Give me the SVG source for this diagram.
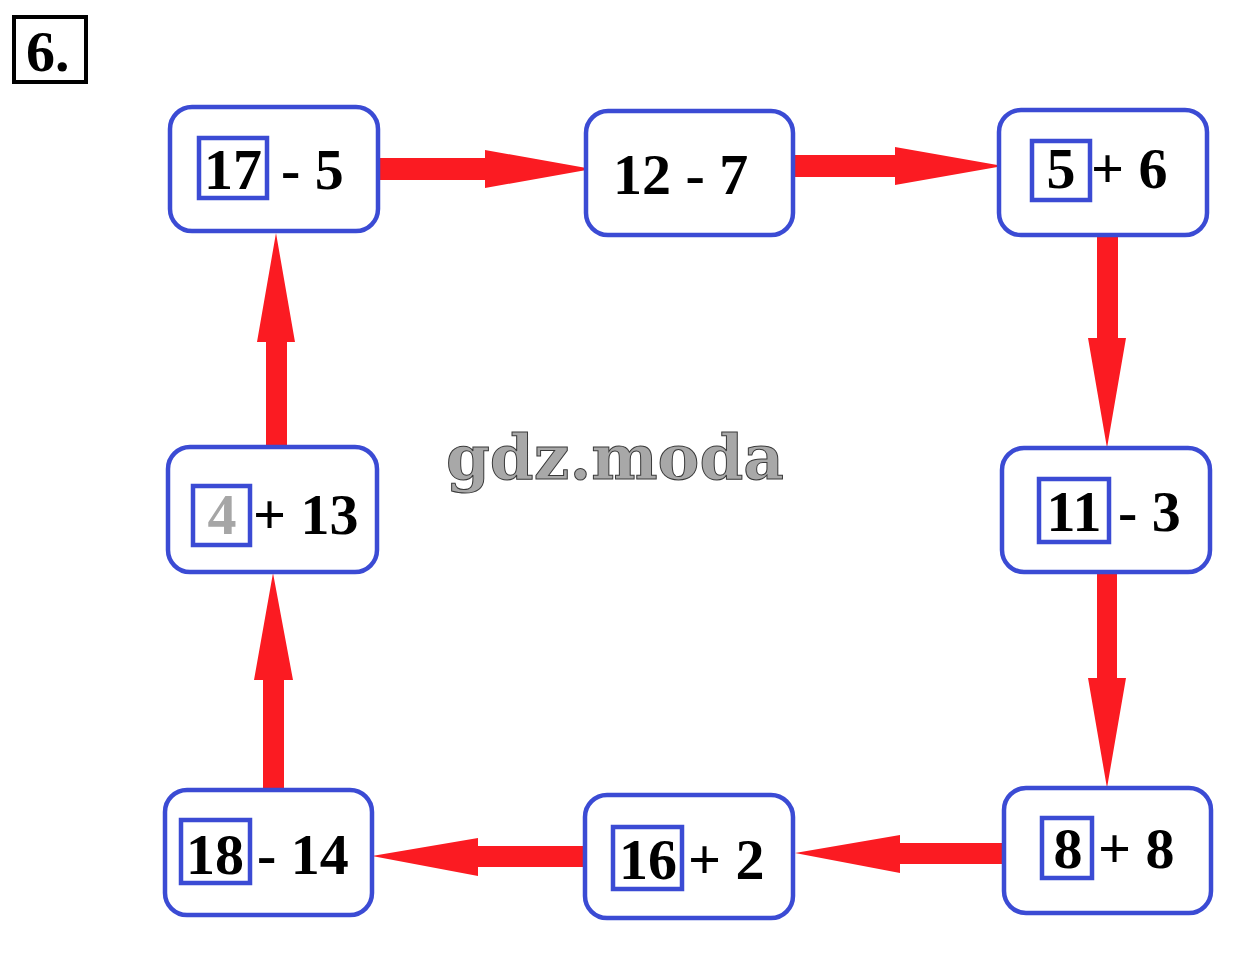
<svg xmlns="http://www.w3.org/2000/svg" width="1234" height="963" viewBox="0 0 1234 963">
<style>
.node{fill:#fff;stroke:#3b4bd4;stroke-width:4.5}
.ibox{fill:none;stroke:#3b4bd4;stroke-width:4.5}
.t{font-family:"Liberation Serif","Times New Roman",serif;font-weight:bold;font-size:58px;fill:#000}
.tm{text-anchor:middle}
.arr{fill:#fb1b22}
.wm{font-family:"DejaVu Serif",serif;font-weight:bold;font-size:62px;fill:#a8a8a8;stroke:#3a3a3a;stroke-width:1}
</style>
<rect width="1234" height="963" fill="#fff"/>
<g id="label6">
<rect x="14" y="17" width="72" height="65" fill="#fff" stroke="#000" stroke-width="4"/>
<text class="t" x="26" y="71" font-size="58">6.</text>
</g>
<g id="connectors">
<polygon class="arr" points="378,158 485,158 485,150 592,169 485,188 485,180 378,180"/>
<polygon class="arr" points="793,155 895,155 895,147 1003,166 895,185 895,177 793,177"/>
<polygon class="arr" points="1097,235 1118,235 1118,338 1126,338 1107,448 1088,338 1097,338"/>
<polygon class="arr" points="1097,572 1117,572 1117,678 1126,678 1107,788 1088,678 1097,678"/>
<polygon class="arr" points="1004,843 900,843 900,835 795,853 900,873 900,864 1004,864"/>
<polygon class="arr" points="585,846 478,846 478,838 372,856 478,876 478,867 585,867"/>
<polygon class="arr" points="263,790 263,680 254,680 273,573 293,680 284,680 284,790"/>
<polygon class="arr" points="266,447 266,342 257,342 276,233 295,342 287,342 287,447"/>
</g>
<g id="n1">
<rect class="node" x="170" y="107" width="208" height="124" rx="22"/>
<rect class="ibox" x="199" y="138" width="68" height="60"/>
<text class="t tm" x="233" y="189">17</text>
<text class="t" x="281" y="189">- 5</text>
</g>
<g id="n2">
<rect class="node" x="586" y="111" width="207" height="124" rx="22"/>
<text class="t" x="613" y="194">12 - 7</text>
</g>
<g id="n3">
<rect class="node" x="999" y="110" width="208" height="125" rx="22"/>
<rect class="ibox" x="1032" y="141" width="58" height="59"/>
<text class="t tm" x="1061" y="188">5</text>
<text class="t" x="1091" y="188">+ 6</text>
</g>
<g id="n4">
<rect class="node" x="1002" y="448" width="208" height="124" rx="22"/>
<rect class="ibox" x="1039" y="479" width="70" height="63"/>
<text class="t tm" x="1074" y="531">11</text>
<text class="t" x="1118" y="531">- 3</text>
</g>
<g id="n5">
<rect class="node" x="1004" y="788" width="207" height="125" rx="22"/>
<rect class="ibox" x="1042" y="818" width="50" height="60"/>
<text class="t tm" x="1068" y="868">8</text>
<text class="t" x="1098" y="868">+ 8</text>
</g>
<g id="n6">
<rect class="node" x="585" y="795" width="208" height="123" rx="22"/>
<rect class="ibox" x="613" y="827" width="69" height="62"/>
<text class="t tm" x="648" y="879">16</text>
<text class="t" x="688" y="879">+ 2</text>
</g>
<g id="n7">
<rect class="node" x="165" y="790" width="207" height="125" rx="22"/>
<rect class="ibox" x="181" y="820" width="69" height="63"/>
<text class="t tm" x="215" y="874">18</text>
<text class="t" x="257" y="874">- 14</text>
</g>
<g id="n8">
<rect class="node" x="168" y="447" width="209" height="125" rx="22"/>
<rect class="ibox" x="193" y="486" width="57" height="59"/>
<text class="t tm" x="222" y="534" style="fill:#a6a6a6">4</text>
<text class="t" x="253" y="534">+ 13</text>
</g>
<text class="wm" x="446" y="479" textLength="338" lengthAdjust="spacingAndGlyphs">gdz.moda</text>
</svg>
